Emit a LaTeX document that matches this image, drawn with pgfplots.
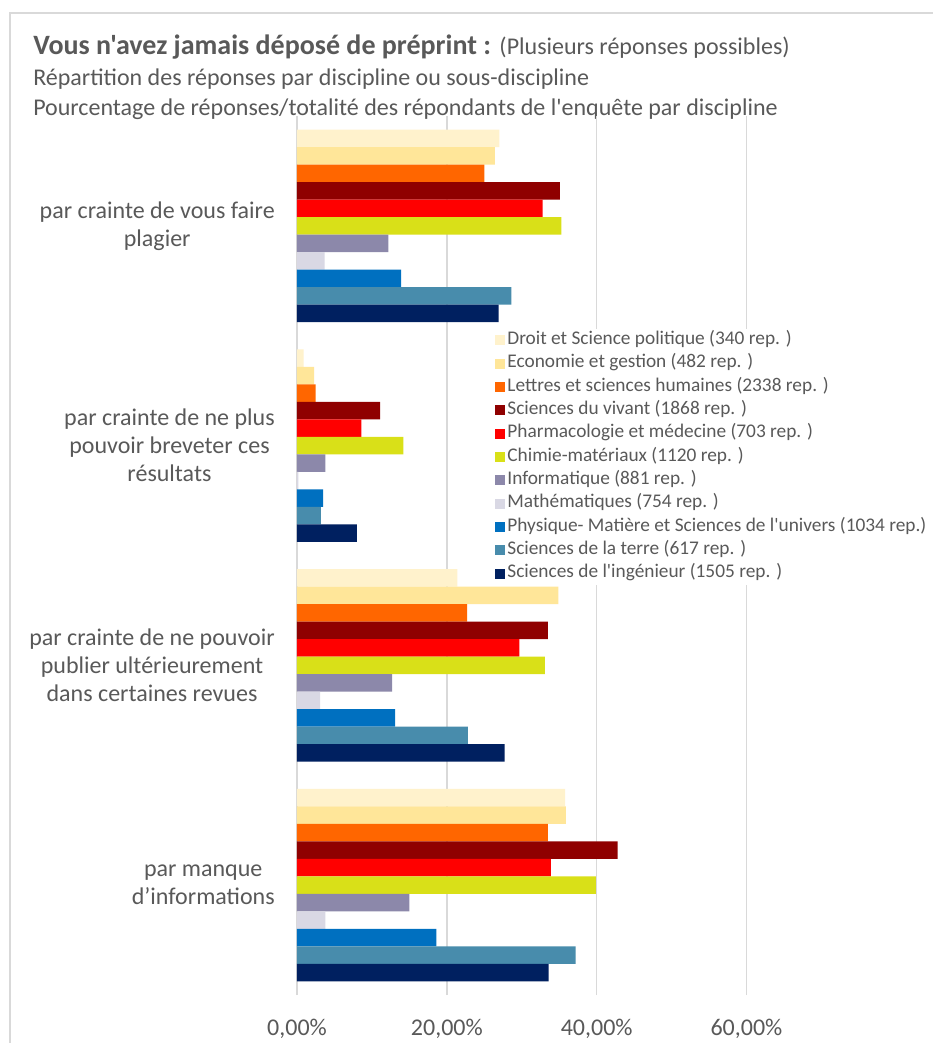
\documentclass[border=0pt]{standalone}
\usepackage{fontspec}
\setmainfont{Carlito}[Ligatures=TeXOff]
\usepackage{pgfplots}
\pgfplotsset{compat=1.18}
\definecolor{txt}{HTML}{595959}
\definecolor{gridc}{HTML}{D9D9D9}
\definecolor{cDroit}{HTML}{FFF2CC}
\definecolor{cEco}{HTML}{FFE699}
\definecolor{cLettres}{HTML}{FF6600}
\definecolor{cVivant}{HTML}{8F0000}
\definecolor{cPharma}{HTML}{FF0000}
\definecolor{cChimie}{HTML}{D9E018}
\definecolor{cInfo}{HTML}{8C88AA}
\definecolor{cMath}{HTML}{D9D8E4}
\definecolor{cPhys}{HTML}{0070C0}
\definecolor{cTerre}{HTML}{488CAC}
\definecolor{cInge}{HTML}{002060}
\begin{document}
\begin{tikzpicture}
\useasboundingbox (0,0) rectangle (699.75pt,-782.25pt);
\fill[white] (0,0) rectangle (699.75pt,-782.25pt);
\draw[gridc, line width=1.1pt] (7.5pt,-782.25pt) -- (7.5pt,-9.75pt) -- (699.75pt,-9.75pt);
\node[anchor=base west, text=txt, inner sep=0pt] at (24.75pt,-40.5pt) {\fontsize{21}{25}\selectfont\bfseries Vous n'avez jamais déposé de préprint : \mdseries\fontsize{18}{22}\selectfont(Plusieurs réponses possibles)};
\node[anchor=base west, text=txt, inner sep=0pt] at (24.75pt,-64pt) {\fontsize{18}{22}\selectfont Répartition des réponses par discipline ou sous-discipline};
\node[anchor=base west, text=txt, inner sep=0pt] at (24.75pt,-86.5pt) {\fontsize{18}{22}\selectfont Pourcentage de réponses/totalité des répondants de l'enquête par discipline};
\begin{axis}[
  at={(222.75pt,-87pt)}, anchor=north west,
  scale only axis, width=477pt, height=659.25pt,
  xbar, bar width=0.0796,
  xmin=0, xmax=84.9, ymin=-0.5, ymax=3.5,
  axis line style={draw=none}, major tick length=0pt,
  xmajorgrids, grid style={gridc, line width=1.2pt},
  xtick={0,20,40,60},
  xticklabels={{0,00\%},{20,00\%},{40,00\%},{60,00\%}},
  xticklabel style={font=\fontsize{18}{21}\selectfont, text=txt, inner sep=0pt, anchor=north, yshift=-18pt},
  ytick={0,1,2,3},
  yticklabels={{par manque\\d’informations},{par crainte de ne pouvoir\\publier ultérieurement\\dans certaines revues},{par crainte de ne plus\\pouvoir breveter ces\\résultats},{par crainte de vous faire\\plagier}},
  yticklabel style={align=center, font=\fontsize{18}{21}\selectfont, text=txt, inner sep=0pt, anchor=east, xshift=-16.5pt},
  legend cell align=left,
  legend image code/.code={\fill[#1] (0pt,-3.75pt) rectangle (7.5pt,3.75pt);},
  legend style={at={(0.3113,0.7585)}, anchor=north west, draw=none, fill=white, inner sep=0pt,
    font=\fontsize{14.5}{16}\selectfont, text=txt, row sep=0pt,
    nodes={inner xsep=1.6pt, inner ysep=0pt, text height=12pt, text depth=5.5pt}},
]
\addplot[fill=cDroit, draw=none, bar shift=0.398] coordinates {(27.0,3) (0.9,2) (21.4,1) (35.8,0)};
\addlegendentry{Droit et Science politique (340 rep. )}
\addplot[fill=cEco, draw=none, bar shift=0.3184] coordinates {(26.4,3) (2.3,2) (34.9,1) (35.9,0)};
\addlegendentry{Economie et gestion (482 rep. )}
\addplot[fill=cLettres, draw=none, bar shift=0.2388] coordinates {(25.0,3) (2.5,2) (22.7,1) (33.5,0)};
\addlegendentry{Lettres et sciences humaines (2338 rep. )}
\addplot[fill=cVivant, draw=none, bar shift=0.1592] coordinates {(35.1,3) (11.1,2) (33.5,1) (42.8,0)};
\addlegendentry{Sciences du vivant (1868 rep. )}
\addplot[fill=cPharma, draw=none, bar shift=0.0796] coordinates {(32.8,3) (8.6,2) (29.7,1) (33.9,0)};
\addlegendentry{Pharmacologie et médecine (703 rep. )}
\addplot[fill=cChimie, draw=none, bar shift=0] coordinates {(35.3,3) (14.2,2) (33.1,1) (39.9,0)};
\addlegendentry{Chimie-matériaux (1120 rep. )}
\addplot[fill=cInfo, draw=none, bar shift=-0.0796] coordinates {(12.2,3) (3.8,2) (12.7,1) (15.0,0)};
\addlegendentry{Informatique (881 rep. )}
\addplot[fill=cMath, draw=none, bar shift=-0.1592] coordinates {(3.7,3) (0.2,2) (3.1,1) (3.8,0)};
\addlegendentry{Mathématiques (754 rep. )}
\addplot[fill=cPhys, draw=none, bar shift=-0.2388] coordinates {(13.9,3) (3.5,2) (13.1,1) (18.6,0)};
\addlegendentry{Physique- Matière et Sciences de l'univers (1034 rep.)}
\addplot[fill=cTerre, draw=none, bar shift=-0.3184] coordinates {(28.6,3) (3.2,2) (22.8,1) (37.2,0)};
\addlegendentry{Sciences de la terre (617 rep. )}
\addplot[fill=cInge, draw=none, bar shift=-0.398] coordinates {(26.9,3) (8.0,2) (27.7,1) (33.6,0)};
\addlegendentry{Sciences de l'ingénieur (1505 rep. )}
\end{axis}
\end{tikzpicture}
\end{document}
